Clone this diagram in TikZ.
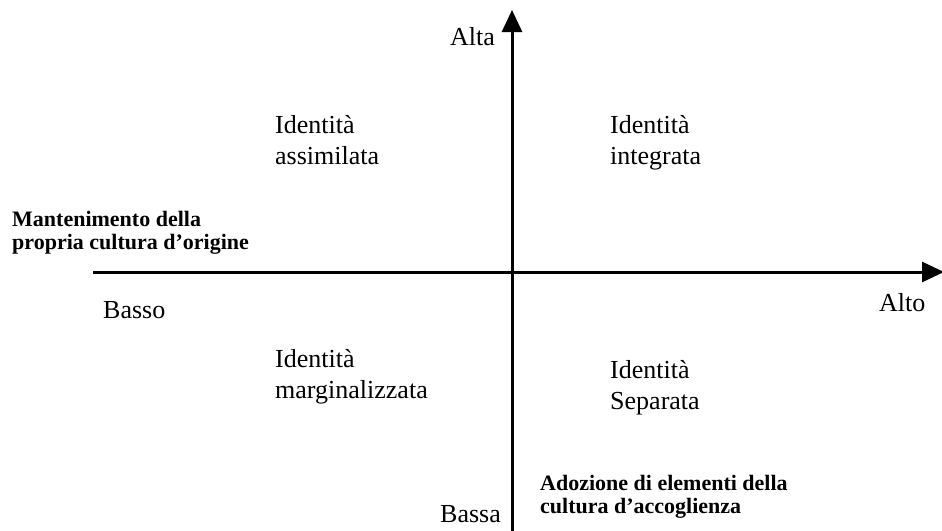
\documentclass[tikz,border=0pt]{standalone}
\usepackage{fontspec}
\setmainfont{Liberation Serif}
\usetikzlibrary{arrows.meta}
\tikzset{
  axis/.style={line width=3pt,-{Triangle[length=22pt,width=20pt]}},
  lab/.style={inner sep=0pt,anchor=base west,align=left,font=\fontsize{26}{31}\selectfont},
  blab/.style={inner sep=0pt,anchor=base west,align=left,font=\fontsize{22}{23}\selectfont\bfseries}
}
\begin{document}
\begin{tikzpicture}[x=1pt,y=-1pt]
\useasboundingbox (0,0) rectangle (942,530);
\coordinate (vb) at (512,532);
\coordinate (vt) at (512,10);
\coordinate (hl) at (93,272);
\coordinate (hr) at (944,272);
\draw[axis] (vb) -- (vt);
\draw[axis] (hl) -- (hr);
\node[lab] (alta) at (450,45) {Alta};
\node[lab] (assim) at (275,164) {Identità\\assimilata};
\node[lab] (integ) at (610,164) {Identità\\integrata};
\node[blab] (mant) at (12,249) {Mantenimento della\\propria cultura d’origine};
\node[lab] (basso) at (103,318) {Basso};
\node[lab] (alto) at (879,311) {Alto};
\node[lab] (marg) at (275,398) {Identità\\marginalizzata};
\node[lab] (sep) at (610,409) {Identità\\Separata};
\node[lab] (bassa) at (440,522) {Bassa};
\node[blab] (adoz) at (540,513) {Adozione di elementi della\\cultura d’accoglienza};
\end{tikzpicture}
\end{document}
